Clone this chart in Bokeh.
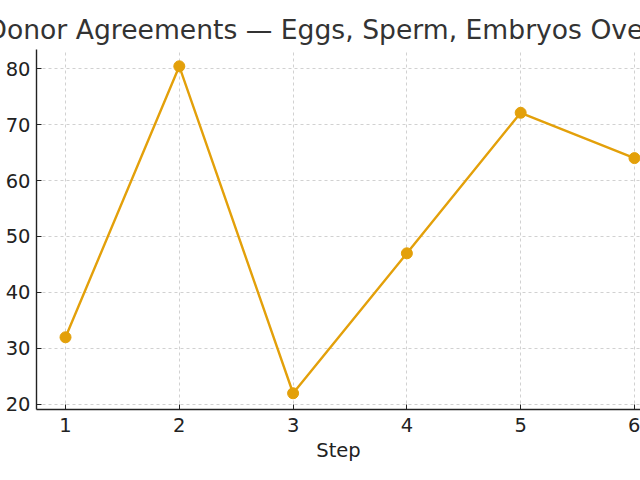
from bokeh.plotting import figure
from bokeh.embed import file_html
from bokeh.resources import INLINE
from bokeh.models import Range1d, FixedTicker, Title

steps = [1, 2, 3, 4, 5, 6]
values = [32, 80.4, 22, 47, 72.1, 64]
x_ticks = [1, 2, 3, 4, 5, 6]
y_ticks = [20, 30, 40, 50, 60, 70, 80]
title_text = "Donor Agreements — Eggs, Sperm, Embryos Over Time"
x_label = "Step"

FONT = "DejaVu Sans"
LINE_COLOR = "#E3A00A"

p = figure(width=640, height=480, output_backend="svg", toolbar_location=None,
           x_range=Range1d(0.745, 6.053), y_range=Range1d(19.1, 83.4),
           min_border_left=36, min_border_right=0, min_border_top=49,
           min_border_bottom=71)
p.title = Title(text=title_text, align="left", offset=-50, text_font=FONT,
                text_font_size="26.6px", text_font_style="normal",
                text_color="#333333", standoff=9)
p.outline_line_color = None
p.background_fill_color = "white"
p.border_fill_color = "white"

p.line(steps, values, line_color=LINE_COLOR, line_width=2.4)
p.scatter(steps, values, size=11, fill_color=LINE_COLOR, line_color=LINE_COLOR)

for ax in (p.xaxis, p.yaxis):
    ax.axis_line_color = "#222222"
    ax.axis_line_width = 1.4
    ax.major_tick_in = 5
    ax.major_tick_out = 0
    ax.major_tick_line_color = "#222222"
    ax.minor_tick_line_color = None
    ax.major_label_text_font = FONT
    ax.major_label_text_font_size = "19.5px"
    ax.major_label_text_color = "#222222"
    ax.axis_label_text_font = FONT
    ax.axis_label_text_font_size = "19.5px"
    ax.axis_label_text_font_style = "normal"
    ax.axis_label_text_color = "#222222"

p.xaxis.ticker = FixedTicker(ticks=x_ticks)
p.yaxis.ticker = FixedTicker(ticks=y_ticks)
p.xaxis.major_label_standoff = 8
p.yaxis.major_label_standoff = 6
p.xaxis.axis_label = x_label
p.xaxis.axis_label_standoff = 4

for g in (p.xgrid, p.ygrid):
    g.grid_line_color = "#cccccc"
    g.grid_line_dash = "3 3"
    g.grid_line_width = 0.9

open("out.html", "w").write(file_html(p, INLINE))
